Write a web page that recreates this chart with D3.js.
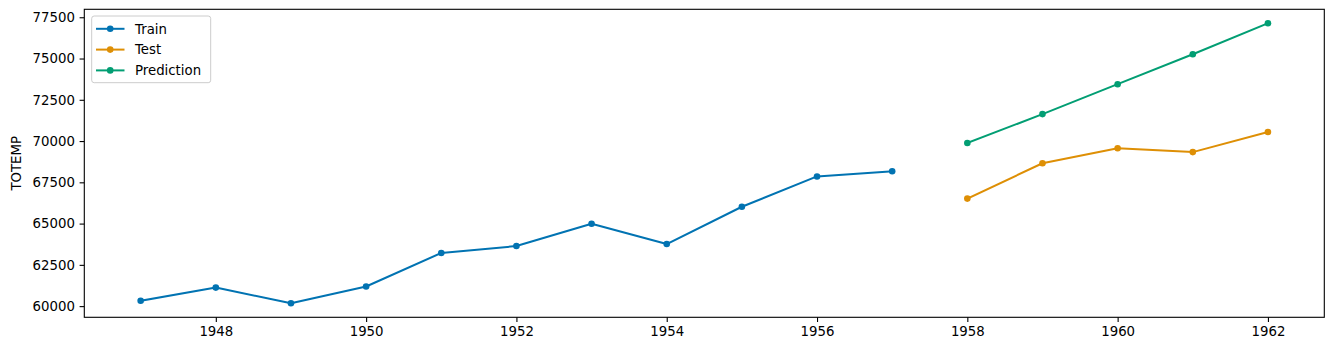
<!DOCTYPE html>
<html>
<head>
<meta charset="utf-8">
<script src="https://cdn.jsdelivr.net/npm/d3@7"></script>
<style>
  html, body { margin: 0; padding: 0; background: #fff; }
  svg { display: block; font-family: "DejaVu Sans", sans-serif; }
</style>
</head>
<body>
<svg id="chart" width="1333" height="351"></svg>
<script>
const trainYears = [1947, 1948, 1949, 1950, 1951, 1952, 1953, 1954, 1955, 1956, 1957];
const trainValues = [60323, 61122, 60171, 61187, 63221, 63639, 64989, 63761, 66019, 67857, 68169];
const testYears = [1958, 1959, 1960, 1961, 1962];
const testValues = [66513, 68655, 69564, 69331, 70551];
const predYears = [1958, 1959, 1960, 1961, 1962];
const predValues = [69879, 71632, 73446, 75260, 77134];
const xTicks = [1948, 1950, 1952, 1954, 1956, 1958, 1960, 1962];
const yTicks = [60000, 62500, 65000, 67500, 70000, 72500, 75000, 77500];
const seriesNames = ["Train", "Test", "Prediction"];
const colors = ["#0173b2", "#de8f05", "#029e73"];

(function () {
const svg = d3.select("#chart");
const pLeft = 84.3, pRight = 1324.3, pTop = 9.3, pBottom = 317.3;

const allYears = trainYears.concat(testYears, predYears);
const allVals = trainValues.concat(testValues, predValues);
const xMin = d3.min(allYears), xMax = d3.max(allYears);
const yMin = d3.min(allVals), yMax = d3.max(allVals);
const xPad = (xMax - xMin) * 0.05, yPad = (yMax - yMin) * 0.05;

const x = d3.scaleLinear().domain([xMin - xPad, xMax + xPad]).range([pLeft, pRight]);
const y = d3.scaleLinear().domain([yMin - yPad, yMax + yPad]).range([pBottom, pTop]);

const fontSize = 13.3;

const xAxis = d3.axisBottom(x).tickValues(xTicks).tickFormat(d3.format("d")).tickSize(4.7).tickPadding(4.7);
const yAxis = d3.axisLeft(y).tickValues(yTicks).tickFormat(d3.format("d")).tickSize(4.7).tickPadding(4.7);

const gx = svg.append("g").attr("transform", `translate(0,${pBottom})`).call(xAxis);
const gy = svg.append("g").attr("transform", `translate(${pLeft},0)`).call(yAxis);
[gx, gy].forEach(g => {
  g.select(".domain").remove();
  g.selectAll(".tick line").attr("stroke", "#000").attr("stroke-width", 1.1);
  g.selectAll(".tick text").attr("fill", "#000").style("font-size", fontSize + "px").style("font-family", "DejaVu Sans");
});

svg.append("rect").attr("x", pLeft).attr("y", pTop).attr("width", pRight - pLeft).attr("height", pBottom - pTop)
  .attr("fill", "none").attr("stroke", "#000").attr("stroke-width", 1.1);

svg.append("text").attr("transform", `translate(21,${(pTop + pBottom) / 2}) rotate(-90)`)
  .attr("text-anchor", "middle").style("font-size", fontSize + "px").attr("fill", "#000").text("TOTEMP");

const line = d3.line().x(d => x(d[0])).y(d => y(d[1]));
const series = [
  trainYears.map((d, i) => [d, trainValues[i]]),
  testYears.map((d, i) => [d, testValues[i]]),
  predYears.map((d, i) => [d, predValues[i]])
];

series.forEach((data, k) => {
  svg.append("path").datum(data).attr("d", line).attr("fill", "none")
    .attr("stroke", colors[k]).attr("stroke-width", 2).attr("stroke-linejoin", "round").attr("stroke-linecap", "square");
  svg.append("g").selectAll("circle").data(data).join("circle")
    .attr("cx", d => x(d[0])).attr("cy", d => y(d[1])).attr("r", 3.3).attr("fill", colors[k]);
});

const lg = svg.append("g");
lg.append("rect").attr("x", 91.7).attr("y", 16).attr("width", 119).attr("height", 66.7)
  .attr("rx", 2.5).attr("fill", "#fff").attr("fill-opacity", 0.8).attr("stroke", "#ccc").attr("stroke-width", 1);
seriesNames.forEach((name, k) => {
  const yy = 28.8 + k * 20.8;
  lg.append("line").attr("x1", 96).attr("x2", 124.5).attr("y1", yy).attr("y2", yy)
    .attr("stroke", colors[k]).attr("stroke-width", 2);
  lg.append("circle").attr("cx", 110.2).attr("cy", yy).attr("r", 3.3).attr("fill", colors[k]);
  lg.append("text").attr("x", 135).attr("y", yy).attr("dy", "0.36em").style("font-size", fontSize + "px")
    .attr("fill", "#000").text(name);
});
})();
</script>
</body>
</html>
